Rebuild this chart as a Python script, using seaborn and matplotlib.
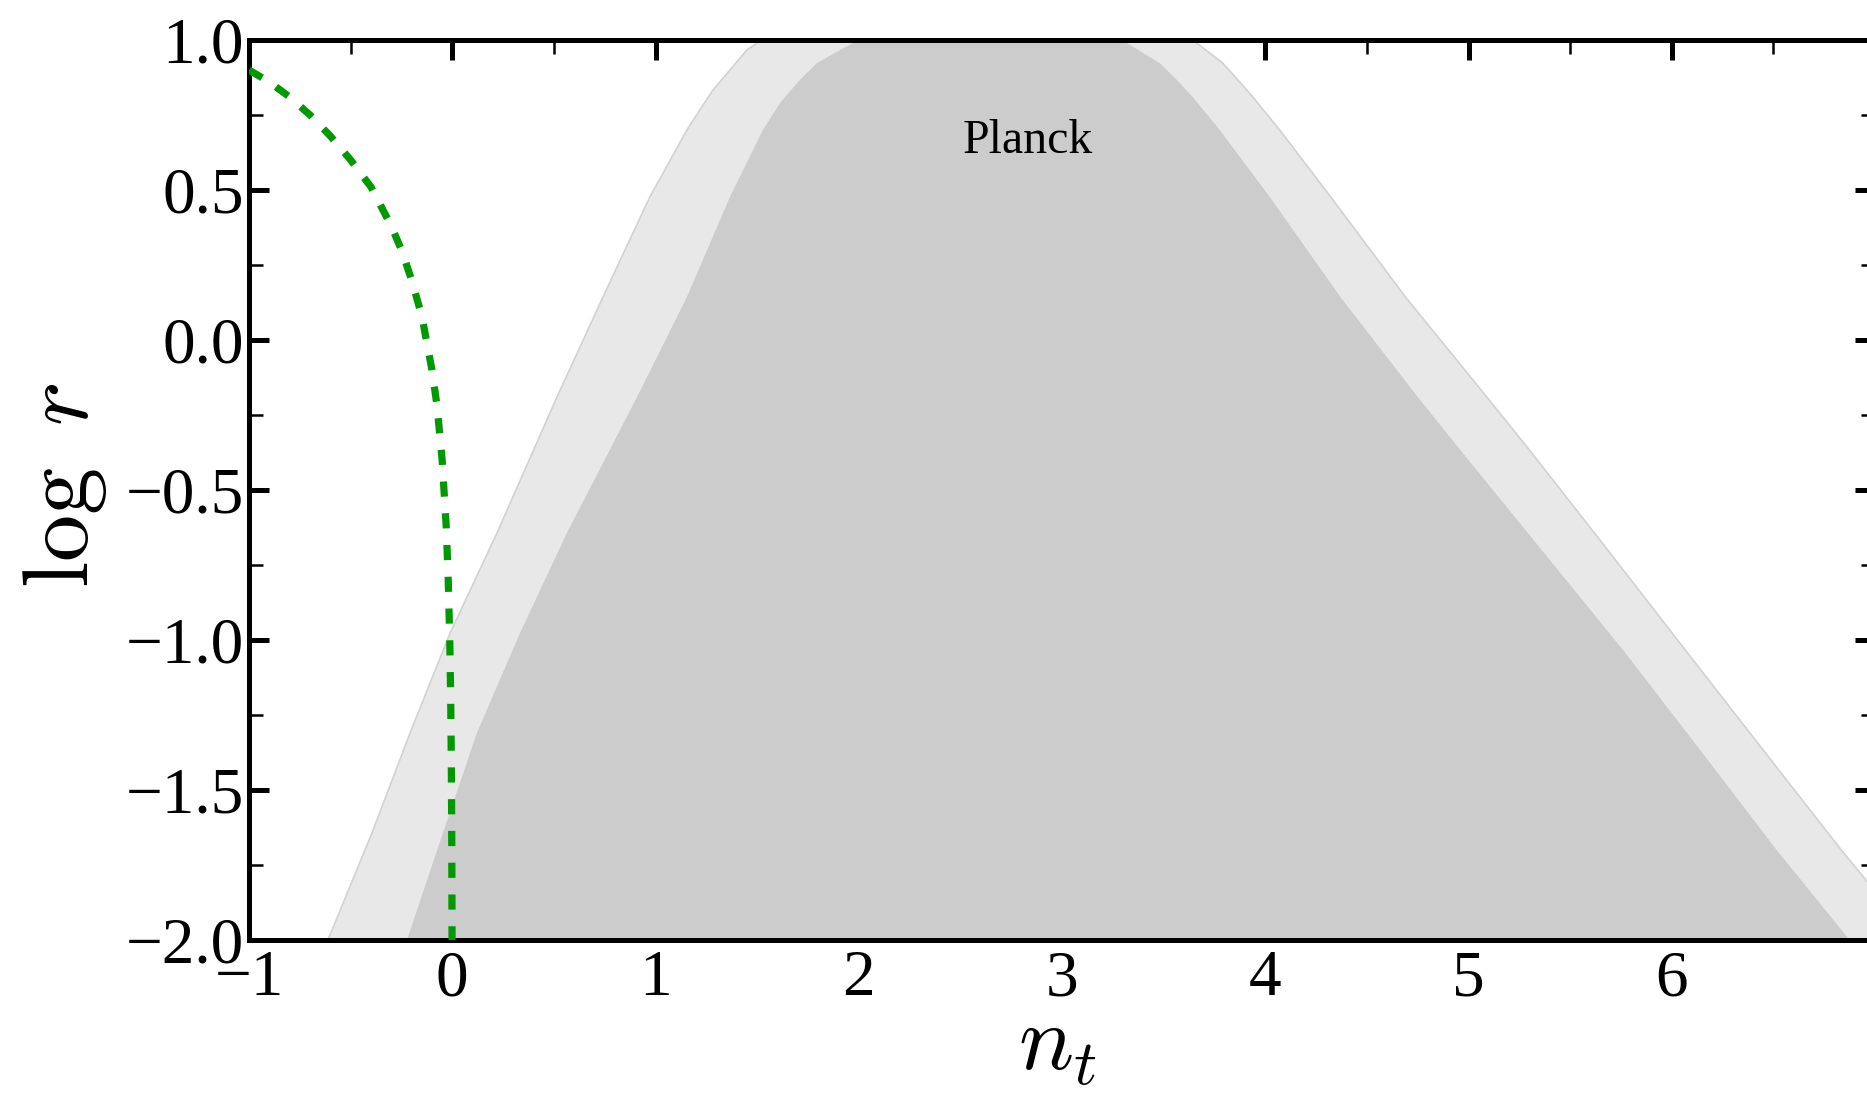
import matplotlib
matplotlib.use("Agg")
import matplotlib.pyplot as plt
from matplotlib.ticker import MultipleLocator
import seaborn as sns
import pandas as pd

# Consistency-relation curve (n_t, log r)
curve_nt = [-1.0, -0.9, -0.8, -0.7, -0.6, -0.5, -0.4, -0.3, -0.25, -0.2, -0.15,
            -0.1, -0.075, -0.05, -0.03, -0.02, -0.0125, -0.008, -0.005, -0.003,
            -0.002, -0.00125]
curve_logr = [0.90, 0.86, 0.81, 0.75, 0.68, 0.60, 0.51, 0.38, 0.30, 0.20, 0.08,
              -0.10, -0.22, -0.40, -0.62, -0.80, -1.00, -1.19, -1.40, -1.62,
              -1.80, -2.00]

# Planck 95% contour (outer) boundary
outer_nt = [-0.64, -0.612, -0.395, -0.208, -0.011, 0.22, 0.515, 0.741, 0.972,
            1.154, 1.218, 1.282, 1.366, 1.45, 1.499, 1.56, 3.60, 3.663, 3.791,
            3.865, 3.939, 4.071, 4.322, 4.69, 5.09, 5.30, 5.685, 6.066, 6.45,
            6.834, 6.959, 7.19, 7.3]
outer_logr = [-2.1, -2.0, -1.643, -1.31, -0.977, -0.643, -0.19, 0.143, 0.477,
              0.70, 0.767, 0.833, 0.90, 0.967, 0.99, 1.02, 1.02, 0.99, 0.923,
              0.867, 0.81, 0.70, 0.477, 0.143, -0.19, -0.367, -0.70, -1.033,
              -1.367, -1.70, -1.803, -2.0, -2.1]

# Planck 68% contour (inner) boundary
inner_nt = [-0.25, -0.223, -0.046, 0.121, 0.333, 0.564, 0.909, 1.154, 1.366,
            1.528, 1.612, 1.71, 1.794, 1.907, 1.971, 2.05, 3.24, 3.319, 3.481,
            3.565, 3.643, 3.776, 4.022, 4.37, 4.75, 4.96, 5.36, 5.76, 6.14,
            6.516, 6.875, 6.92]
inner_logr = [-2.1, -2.0, -1.643, -1.31, -0.977, -0.643, -0.19, 0.143, 0.477,
              0.70, 0.79, 0.867, 0.923, 0.967, 0.99, 1.02, 1.02, 0.99, 0.923,
              0.867, 0.81, 0.70, 0.477, 0.143, -0.19, -0.367, -0.70, -1.033,
              -1.367, -1.70, -2.0, -2.1]

x_ticks = [-1, 0, 1, 2, 3, 4, 5, 6]
x_tick_labels = ["\u22121", "0", "1", "2", "3", "4", "5", "6"]
y_ticks = [1.0, 0.5, 0.0, -0.5, -1.0, -1.5, -2.0]
y_tick_labels = ["1.0", "0.5", "0.0", "\u22120.5", "\u22121.0", "\u22121.5", "\u22122.0"]

sns.set_theme(style="white")
plt.rcParams["font.family"] = ["Liberation Serif", "DejaVu Serif"]
plt.rcParams["mathtext.fontset"] = "cm"
plt.rcParams["text.color"] = "black"
plt.rcParams["axes.labelcolor"] = "black"
plt.rcParams["xtick.color"] = "black"
plt.rcParams["ytick.color"] = "black"

fig = plt.figure(figsize=(18.67, 10.97), dpi=100)
ax = fig.add_axes([0.1334, 0.1431, 0.8709, 0.8204])

ax.fill(outer_nt, outer_logr, facecolor="#e8e8e8", edgecolor="#d2d2d2",
        linewidth=1.2, zorder=1)
ax.fill(inner_nt, inner_logr, facecolor="#cccccc", edgecolor="none", zorder=2)

curve = pd.DataFrame({"nt": curve_nt, "logr": curve_logr})
sns.lineplot(data=curve, x="nt", y="logr", ax=ax, color="#009900", lw=5.2,
             sort=False, errorbar=None, linestyle=(0, (2.1, 2.3)), zorder=3)

ax.text(2.83, 0.623, "Planck", fontsize=34.5, ha="center", va="baseline",
        color="black", zorder=4)

ax.set_xlim(-1, 7)
ax.set_ylim(-2, 1)
ax.set_xticks(x_ticks, labels=x_tick_labels)
ax.set_yticks(y_ticks, labels=y_tick_labels)
ax.xaxis.set_minor_locator(MultipleLocator(0.5))
ax.yaxis.set_minor_locator(MultipleLocator(0.25))

ax.tick_params(which="both", direction="in", top=True, right=True,
               bottom=True, left=True, colors="black", labelcolor="black",
               labelsize=47)
ax.tick_params(which="major", length=14.4, width=3.6)
ax.tick_params(which="minor", length=10.0, width=1.8)
ax.tick_params(axis="x", which="major", pad=7)
ax.tick_params(axis="y", which="major", pad=3.5)

for side in ["top", "bottom", "left", "right"]:
    ax.spines[side].set_visible(True)
    ax.spines[side].set_linewidth(3.6)
    ax.spines[side].set_color("black")

ax.set_xlabel(r"$n_t$", fontsize=66, color="black")
ax.set_ylabel(r"$\log\ r$", fontsize=68, color="black")
ax.xaxis.set_label_coords(0.497, -0.073)
ax.yaxis.set_label_coords(-0.0862, 0.505)

fig.savefig("out.png", dpi=100)
